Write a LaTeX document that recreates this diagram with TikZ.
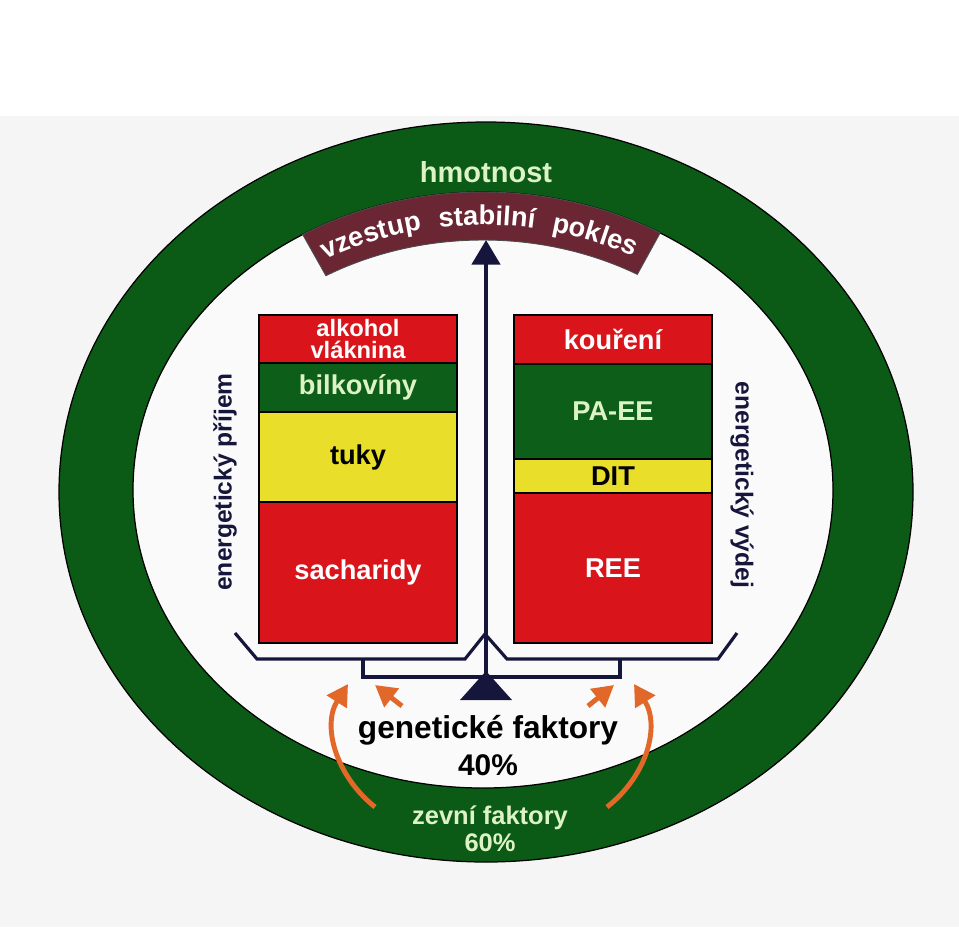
\documentclass[tikz,border=0pt]{standalone}
\usepackage{fontspec}
\setmainfont{Liberation Sans}
\usetikzlibrary{arrows.meta,calc,decorations.text}
\definecolor{ringgreen}{HTML}{0B5A16}
\definecolor{boxred}{HTML}{D9141A}
\definecolor{boxyellow}{HTML}{E9DE2A}
\definecolor{boxgreen}{HTML}{0C5E18}
\definecolor{bandred}{HTML}{6B2634}
\definecolor{scalenavy}{HTML}{16163C}
\definecolor{arroworange}{HTML}{E2682A}
\definecolor{lightgreen}{HTML}{DDF3C6}

\begin{document}
\begin{tikzpicture}[x=0.02cm, y=-0.02cm,
    stack/.style={draw=black, line width=0.9pt, minimum width=3.96cm, inner sep=0pt, font=\bfseries\fontsize{15.5}{16}\selectfont, text=white},
    sidetext/.style={font=\bfseries\fontsize{14}{14}\selectfont, text=scalenavy},
    bandword/.style={decorate, decoration={text along path, text align=center, text color=white, text={|\bfseries\fontsize{15.5}{15.5}\selectfont|#1}}},
    beam/.style={draw=scalenavy, line width=1.8pt, line join=miter},
    push/.style={draw=arroworange, line width=2.8pt, -{Triangle[length=12pt,width=13pt]}}
]
\useasboundingbox (0,0) rectangle (959,927);

% Background
\fill[white] (0,0) rectangle (959,927);
\fill[black!4] (0,116) rectangle (959,927);

% Ring
\fill[white!98!black] (483,490) ellipse [x radius=350, y radius=298];
\fill[ringgreen, even odd rule] (486,492) ellipse [x radius=427, y radius=370] (483,490) ellipse [x radius=350, y radius=298];
\draw[line width=0.7pt] (486,492) ellipse [x radius=427, y radius=370] (483,490) ellipse [x radius=350, y radius=298];
\node[font=\bfseries\fontsize{16.5}{16.5}\selectfont, text=lightgreen] (mass) at (486,172) {hmotnost};

% Band
\fill[bandred, draw=black!70, line width=0.5pt] ($(483,490)+(-121:350 and 298)$) arc[start angle=-121, end angle=-59.6, x radius=350, y radius=298] -- ($(483,490)+(-59.6:305 and 250)$) arc[start angle=-59.6, end angle=-121, x radius=305, y radius=250] -- cycle;
\path[bandword=vzestup] ($(483,490)+(-126:318 and 265)$) arc[start angle=-126, end angle=-95, x radius=318, y radius=265];
\path[bandword=stabilní] ($(483,490)+(-105:318 and 265)$) arc[start angle=-105, end angle=-73.6, x radius=318, y radius=265];
\path[bandword=pokles] ($(483,490)+(-85:318 and 265)$) arc[start angle=-85, end angle=-54, x radius=318, y radius=265];

% Intake
\node[stack, fill=boxred, minimum height=0.96cm, align=center, font=\bfseries\fontsize{13.5}{12}\selectfont] (alc) at (358,339) {alkohol\\vláknina};
\node[stack, fill=boxgreen, minimum height=0.98cm, text=lightgreen] (prot) at (358,387.5) {bilkovíny};
\node[stack, fill=boxyellow, minimum height=1.8cm, text=black] (fat) at (358,457) {tuky};
\node[stack, fill=boxred, minimum height=2.82cm] (carb) at (358,572.5) {sacharidy};
\node[sidetext, rotate=90] (intake) at (225,482) {energetický příjem};

% Expenditure
\node[stack, fill=boxred, minimum height=0.98cm] (smoke) at (613,339.5) {kouření};
\node[stack, fill=boxgreen, minimum height=1.9cm, text=lightgreen] (paee) at (613,411.5) {PA-EE};
\node[stack, fill=boxyellow, minimum height=0.68cm, text=black] (dit) at (613,476) {DIT};
\node[stack, fill=boxred, minimum height=3.0cm] (ree) at (613,568) {REE};
\node[sidetext, rotate=-90] (output) at (742,485) {energetický výdej};

% Scale
\draw[beam] (235,633) -- (257,659) -- (465,659) -- (485,634) -- (507,659) -- (718,659) -- (737,633);
\draw[beam] (363,659) -- (363,677) -- (620,677) -- (620,659);
\draw[scalenavy, line width=2.4pt, -{Triangle[length=14pt,width=16pt]}] (486,690) -- (486,240);
\fill[scalenavy] (486,671) -- (512,700) -- (460,700) -- cycle;

% Factors
\node[font=\bfseries\fontsize{18}{18}\selectfont] (genes) at (488,730) {genetické faktory};
\node[font=\bfseries\fontsize{17}{17}\selectfont] (genespct) at (488,765) {40\%};
\node[font=\bfseries\fontsize{14.5}{14.5}\selectfont, text=lightgreen] (env) at (490,818) {zevní faktory};
\node[font=\bfseries\fontsize{14.5}{14.5}\selectfont, text=lightgreen] (envpct) at (490,843) {60\%};

% Arrows
\coordinate (l1) at (375,807);
\coordinate (l1tip) at (348,684);
\coordinate (l2) at (402,706);
\coordinate (l2tip) at (375,685);
\coordinate (r1) at (607,807);
\coordinate (r1tip) at (634,684);
\coordinate (r2) at (588,706);
\coordinate (r2tip) at (614,685);
\draw[push] (l1) .. controls (335,775) and (322,725) .. (l1tip);
\draw[push] (l2) -- (l2tip);
\draw[push] (r1) .. controls (648,775) and (660,725) .. (r1tip);
\draw[push] (r2) -- (r2tip);

\end{tikzpicture}
\end{document}
